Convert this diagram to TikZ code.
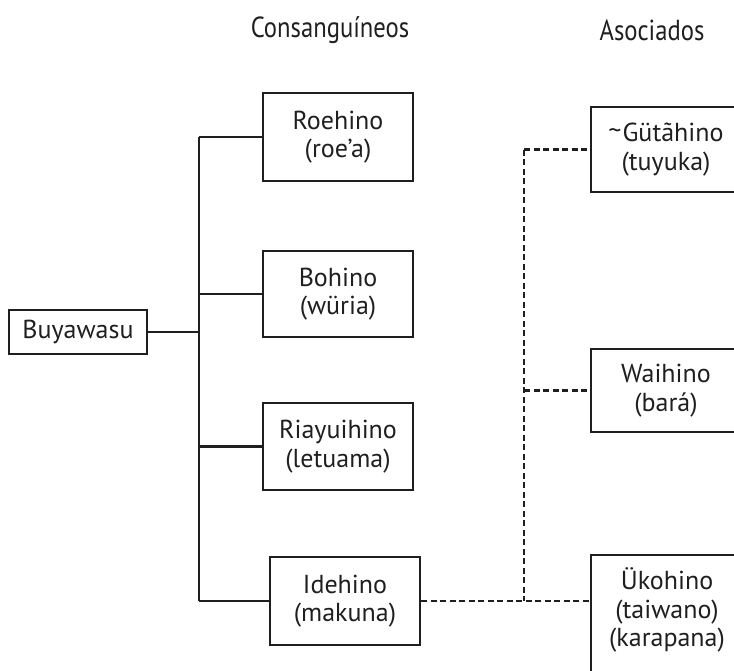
\documentclass[tikz,border=0pt]{standalone}
\usepackage{fontspec}
\setmainfont{PT Sans}
\begin{document}
\begin{tikzpicture}[x=1pt,y=1pt,
  every node/.style={font=\fontsize{26}{28.5}\selectfont, align=center, text=black!88},
  box/.style={draw=black!88, line width=2.1pt, minimum width=150pt, inner sep=0pt},
  link/.style={draw=black!88, line width=2.1pt},
  dlink/.style={draw=black!88, line width=2.1pt, dash pattern=on 6pt off 3.5pt},
  head/.style={font=\addfontfeature{FakeStretch=0.85}\fontsize{29}{32}\selectfont}]
\useasboundingbox (0,0) rectangle (734,-670);
\clip (0,0) rectangle (734,-670);

% column headings
\node[head] (hc) at (330,-30) {Consanguíneos};
\node[head] (ha) at (652,-30) {Asociados};

% root
\node[box, minimum width=138pt, minimum height=44pt] (buy) at (78,-332) {Buyawasu};

% consanguineal groups
\node[box, minimum height=88pt] (roe) at (338,-137) {Roehino\\(roe’a)};
\node[box, minimum height=86pt] (boh) at (338,-294) {Bohino\\(würia)};
\node[box, minimum height=87pt] (ria) at (338,-446.5) {Riayuihino\\(letuama)};
\node[box, minimum height=88pt] (ide) at (345,-601) {Idehino\\(makuna)};

% associated groups
\node[box, minimum height=85pt] (gut) at (666,-149.5) {\raisebox{2pt}{\fontsize{26}{26}\selectfont\textasciitilde}\kern1pt Gütãhino\\(tuyuka)};
\node[box, minimum height=83pt] (wai) at (666,-390.5) {Waihino\\(bará)};
\node[box, minimum height=150pt, anchor=north] (ukobox) at (666,-554) {};
\node (uko) at (667,-610) {Ükohino\\(taiwano)\\(karapana)};

% solid tree of consanguineal links
\coordinate (tr) at (199,0);
\draw[link] (roe.west -| tr) -- (ide.west -| tr);
\draw[link] (buy.east) -- (buy.east -| tr);
\draw[link] (roe.west -| tr) -- (roe.west);
\draw[link] (boh.west -| tr) -- (boh.west);
\draw[link] (ria.west -| tr) -- (ria.west);
\draw[link] (ide.west -| tr) -- (ide.west);

% dashed links to associated groups
\coordinate (dv) at (524,0);
\draw[dlink] (ide.east) -- (ide.east -| ukobox.west);
\draw[dlink] (gut.west -| dv) -- (ide.east -| dv);
\draw[dlink] (gut.west -| dv) -- (gut.west);
\draw[dlink] (wai.west -| dv) -- (wai.west);
\end{tikzpicture}
\end{document}
